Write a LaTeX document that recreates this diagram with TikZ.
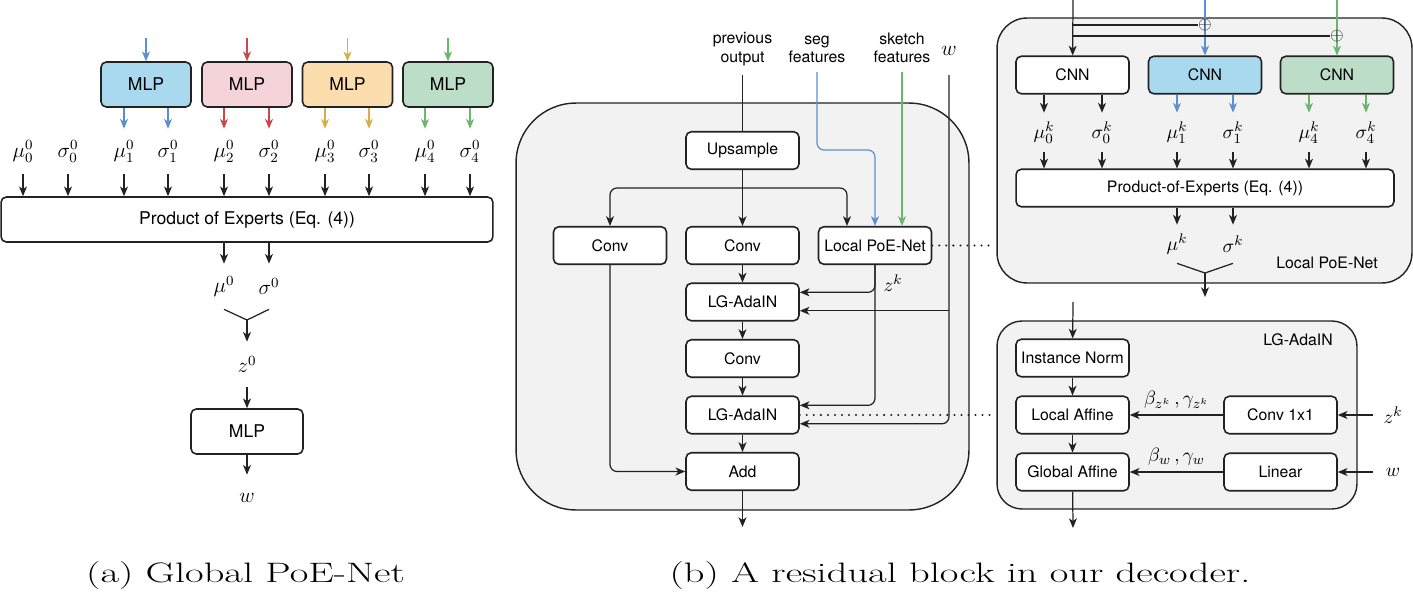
\documentclass[tikz,border=0pt]{standalone}
\usepackage{fontspec}
\newfontfamily\heros{TeX Gyre Heros}
\usetikzlibrary{positioning,arrows.meta}
\definecolor{boxblue}{HTML}{A9D9EF}
\definecolor{boxred}{HTML}{F4D4D8}
\definecolor{boxorange}{HTML}{FCDDAE}
\definecolor{boxgreen}{HTML}{BCDDC8}
\definecolor{lineblue}{HTML}{5B8FD1}
\definecolor{linered}{HTML}{C9494B}
\definecolor{lineorange}{HTML}{D6AE45}
\definecolor{linegreen}{HTML}{6AB66B}
\definecolor{panel}{HTML}{F2F2F2}
\definecolor{ink}{HTML}{222222}

\begin{document}
\begin{tikzpicture}[x=0.02cm, y=-0.02cm,
wire/.style={draw=ink, line width=0.7pt},
arr/.style={wire, -{Stealth[length=5.5pt,width=4.5pt,inset=1.5pt]}},
box/.style={draw=ink, fill=white, rounded corners=3pt, line width=0.9pt, inner sep=1pt,
  font=\heros\fontsize{9}{11}\selectfont, minimum width=2.26cm, minimum height=0.75cm},
bigbox/.style={box, font=\heros\fontsize{10}{12}\selectfont, minimum width=1.8cm, minimum height=0.9cm},
panelbox/.style={draw=ink, fill=panel, line width=0.8pt, inner sep=0pt},
lbl/.style={inner sep=0pt, minimum height=#1, font=\fontsize{12}{14}\selectfont},
lbl/.default=0.9cm,
slbl/.style={lbl=#1, font=\fontsize{11}{13}\selectfont},
txt/.style={font=\heros\fontsize{9}{10.5}\selectfont, align=center, inner ysep=5pt},
dots/.style={draw=ink, line width=1.3pt, line cap=round, dash pattern=on 0pt off 4pt},
captext/.style={font=\fontsize{16}{19}\selectfont}
]
\useasboundingbox (0,0) rectangle (1413,602);

% (a) global PoE-Net
\node[bigbox, fill=boxblue] (mlp1) at (146,84.5) {MLP};
\node[bigbox, fill=boxred] (mlp2) at (247,84.5) {MLP};
\node[bigbox, fill=boxorange] (mlp3) at (347.5,84.5) {MLP};
\node[bigbox, fill=boxgreen] (mlp4) at (448,84.5) {MLP};
\coordinate (in1) at (146,38);
\coordinate (in2) at (247,38);
\coordinate (in3) at (347.5,38);
\coordinate (in4) at (448,38);
\draw[arr, lineblue] (in1) -- (mlp1);
\draw[arr, linered] (in2) -- (mlp2);
\draw[arr, lineorange] (in3) -- (mlp3);
\draw[arr, linegreen] (in4) -- (mlp4);

\node[lbl] (m0) at (23,151.5) {$\mu_0^0$};
\node[lbl] (s0) at (68,151.5) {$\sigma_0^0$};
\node[lbl] (m1) at (124,151.5) {$\mu_1^0$};
\node[lbl] (s1) at (168,151.5) {$\sigma_1^0$};
\node[lbl] (m2) at (224,151.5) {$\mu_2^0$};
\node[lbl] (s2) at (269,151.5) {$\sigma_2^0$};
\node[lbl] (m3) at (325,151.5) {$\mu_3^0$};
\node[lbl] (s3) at (369,151.5) {$\sigma_3^0$};
\node[lbl] (m4) at (425,151.5) {$\mu_4^0$};
\node[lbl] (s4) at (470,151.5) {$\sigma_4^0$};
\draw[arr, lineblue] (mlp1.south -| m1) -- (m1);
\draw[arr, lineblue] (mlp1.south -| s1) -- (s1);
\draw[arr, linered] (mlp2.south -| m2) -- (m2);
\draw[arr, linered] (mlp2.south -| s2) -- (s2);
\draw[arr, lineorange] (mlp3.south -| m3) -- (m3);
\draw[arr, lineorange] (mlp3.south -| s3) -- (s3);
\draw[arr, linegreen] (mlp4.south -| m4) -- (m4);
\draw[arr, linegreen] (mlp4.south -| s4) -- (s4);

\node[bigbox, minimum width=9.84cm] (gpoe) at (247,219.5) {Product of Experts (Eq. (4))};
\draw[arr] (m0) -- (m0 |- gpoe.north);
\draw[arr] (s0) -- (s0 |- gpoe.north);
\draw[arr] (m1) -- (m1 |- gpoe.north);
\draw[arr] (s1) -- (s1 |- gpoe.north);
\draw[arr] (m2) -- (m2 |- gpoe.north);
\draw[arr] (s2) -- (s2 |- gpoe.north);
\draw[arr] (m3) -- (m3 |- gpoe.north);
\draw[arr] (s3) -- (s3 |- gpoe.north);
\draw[arr] (m4) -- (m4 |- gpoe.north);
\draw[arr] (s4) -- (s4 |- gpoe.north);

\node[lbl] (mu0) at (224,286.5) {$\mu^0$};
\node[lbl] (sg0) at (269,286.5) {$\sigma^0$};
\draw[arr] (gpoe.south -| mu0) -- (mu0);
\draw[arr] (gpoe.south -| sg0) -- (sg0);
\coordinate (j0) at (247,320);
\draw[wire] (mu0.south) -- (j0) -- (sg0.south);
\node[lbl] (z0) at (247,364.5) {$z^0$};
\draw[arr] (j0) -- (z0);
\node[bigbox, minimum width=2.24cm] (mlpw) at (247,431.5) {MLP};
\draw[arr] (z0) -- (mlpw);
\node[lbl] (w0) at (247,497.5) {$w$};
\draw[arr] (mlpw) -- (w0);
\node[captext] (capa) at (245.5,575) {\scalebox{1.44}[1]{(a) Global PoE-Net}};

% (b) residual block
\node[panelbox, rounded corners=1.2cm, minimum width=9.06cm, minimum height=8.14cm] (resblk) at (742.5,306.5) {};
\node[txt, anchor=south] (prev) at (742.5,75) {previous\\output};
\node[txt, anchor=south] (seg) at (817,72) {seg\\features};
\node[txt, anchor=south] (skt) at (902,72) {sketch\\features};
\node[lbl=0.95cm, anchor=south] (wtop) at (949,75) {$w$};

\node[box] (ups) at (742.5,150.5) {Upsample};
\node[box] (convl) at (610,245.5) {Conv};
\node[box] (convm) at (742.5,245.5) {Conv};
\node[box] (lpoe) at (875,245.5) {Local PoE-Net};
\node[box] (lg1) at (742.5,302) {LG-AdaIN};
\node[box] (conv2) at (742.5,358.5) {Conv};
\node[box] (lg2) at (742.5,415) {LG-AdaIN};
\node[box] (add) at (742.5,471.5) {Add};
\coordinate (br) at (742.5,188);
\coordinate (resout) at (742.5,527);
\coordinate (lg1w) at ([yshift=-5pt]lg1.east);

\draw[wire] (prev) -- (ups);
\draw[arr] (ups) -- (convm);
\draw[arr, rounded corners=4pt] (br) -| (convl);
\draw[arr, rounded corners=4pt] (br) -| ([xshift=-0.56cm]lpoe.north);
\draw[arr, draw=lineblue, rounded corners=4pt] (seg) |- (lpoe.north |- 0,150) -- (lpoe.north);
\draw[arr, draw=linegreen] (skt) -- (skt |- lpoe.north);
\draw[arr, rounded corners=4pt] (wtop) |- ([yshift=-5pt]lg2.east);
\draw[arr] (wtop |- lg1w) -- (lg1w);
\draw[arr, rounded corners=4pt] (lpoe) |- ([yshift=5.5pt]lg1.east);
\draw[arr, rounded corners=4pt] (lpoe) |- ([yshift=5.5pt]lg2.east);
\node[slbl=0.5cm] (zk) at (893,283) {$z^k$};
\draw[arr, rounded corners=4pt] (convl) |- (add);
\draw[arr] (convm) -- (lg1);
\draw[arr] (lg1) -- (conv2);
\draw[arr] (conv2) -- (lg2);
\draw[arr] (lg2) -- (add);
\draw[arr] (add) -- (resout);
\coordinate (dota) at (990,245.5);
\coordinate (dotb) at (990,415);
\draw[dots] (lpoe) -- (dota);
\draw[dots] (lg2) -- (dotb);

% local PoE-Net
\node[panelbox, rounded corners=0.6cm, minimum width=8.3cm, minimum height=5.3cm] (lpbox) at (1204.5,150.5) {};
\node[font=\heros\fontsize{9}{11}\selectfont] (lptitle) at (1327,263) {Local PoE-Net};
\node[box] (cnn0) at (1072.5,75) {CNN};
\node[box, fill=boxblue] (cnn1) at (1205,75) {CNN};
\node[box, fill=boxgreen] (cnn4) at (1337,75) {CNN};
\coordinate (t0) at (1073,0);
\coordinate (t1) at (1205,0);
\coordinate (t4) at (1337,0);
\draw[arr] (t0) -- (cnn0);
\draw[arr, draw=lineblue] (t1) -- (cnn1);
\draw[arr, draw=linegreen] (t4) -- (cnn4);
\node[inner sep=0pt, font=\normalsize, text=ink] (op1) at (1205,25) {$\oplus$};
\node[inner sep=0pt, font=\normalsize, text=ink] (op4) at (1337,36) {$\oplus$};
\draw[wire] (t0 |- op1) -- (op1);
\draw[wire] (t0 |- op4) -- (op4);

\node[slbl=0.78cm] (mk0) at (1044,132.5) {$\mu_0^k$};
\node[slbl=0.78cm] (sk0) at (1102,132.5) {$\sigma_0^k$};
\node[slbl=0.78cm] (mk1) at (1177,132.5) {$\mu_1^k$};
\node[slbl=0.78cm] (sk1) at (1233,132.5) {$\sigma_1^k$};
\node[slbl=0.78cm] (mk4) at (1309,132.5) {$\mu_4^k$};
\node[slbl=0.78cm] (sk4) at (1366,132.5) {$\sigma_4^k$};
\draw[arr] (cnn0.south -| mk0) -- (mk0);
\draw[arr] (cnn0.south -| sk0) -- (sk0);
\draw[arr, draw=lineblue] (cnn1.south -| mk1) -- (mk1);
\draw[arr, draw=lineblue] (cnn1.south -| sk1) -- (sk1);
\draw[arr, draw=linegreen] (cnn4.south -| mk4) -- (mk4);
\draw[arr, draw=linegreen] (cnn4.south -| sk4) -- (sk4);

\node[box, minimum width=7.56cm] (lpoe2) at (1205,188) {Product-of-Experts (Eq. (4))};
\draw[arr] (mk0) -- (mk0 |- lpoe2.north);
\draw[arr] (sk0) -- (sk0 |- lpoe2.north);
\draw[arr] (mk1) -- (mk1 |- lpoe2.north);
\draw[arr] (sk1) -- (sk1 |- lpoe2.north);
\draw[arr] (mk4) -- (mk4 |- lpoe2.north);
\draw[arr] (sk4) -- (sk4 |- lpoe2.north);
\node[slbl=0.76cm] (muk) at (1177,244) {$\mu^k$};
\node[slbl=0.76cm] (sgk) at (1233,244) {$\sigma^k$};
\draw[arr] (lpoe2.south -| muk) -- (muk);
\draw[arr] (lpoe2.south -| sgk) -- (sgk);
\coordinate (jk) at (1205,273);
\coordinate (lpout) at (1205,297);
\draw[wire] (muk.south) -- (jk) -- (sgk.south);
\draw[arr] (jk) -- (lpout);

% LG-AdaIN
\node[panelbox, rounded corners=0.5cm, minimum width=7.2cm, minimum height=3.76cm] (lgbox) at (1177,415) {};
\node[font=\heros\fontsize{9}{11}\selectfont] (lgtitle) at (1298,340) {LG-AdaIN};
\node[box] (inorm) at (1072.5,358) {Instance Norm};
\node[box] (laff) at (1072.5,415) {Local Affine};
\node[box] (gaff) at (1072.5,472) {Global Affine};
\node[box] (c11) at (1280.5,415) {Conv 1x1};
\node[box] (lin) at (1280.5,472) {Linear};
\coordinate (lgin) at (1073,302);
\coordinate (lgout) at (1073,528);
\node[slbl=0.5cm, inner xsep=6pt] (zkr) at (1393,415) {$z^k$};
\node[slbl=0.5cm, inner xsep=7pt] (wr) at (1393,472) {$w$};
\draw[arr] (lgin) -- (inorm);
\draw[arr] (inorm) -- (laff);
\draw[arr] (laff) -- (gaff);
\draw[arr] (gaff) -- (lgout);
\draw[arr] (c11) -- node[above, font=\fontsize{11}{13}\selectfont] (bz) {$\beta_{z^k}\,,\gamma_{z^k}$} (laff);
\draw[arr] (lin) -- node[above, font=\fontsize{11}{13}\selectfont] (bw) {$\beta_w\,,\gamma_w$} (gaff);
\draw[arr] (zkr) -- (c11);
\draw[arr] (wr) -- (lin);
\node[captext] (capb) at (960,575) {\scalebox{1.44}[1]{(b) A residual block in our decoder.}};
\end{tikzpicture}
\end{document}
